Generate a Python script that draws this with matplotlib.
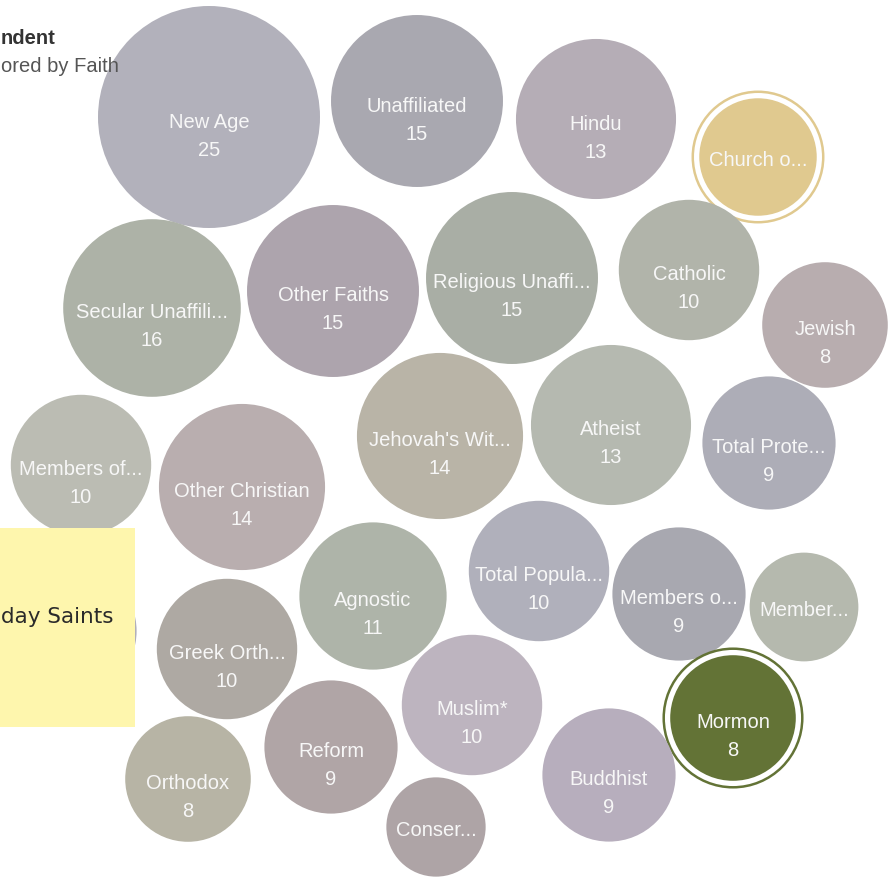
import numpy as np
import matplotlib
matplotlib.use("Agg")
import matplotlib.pyplot as plt
from matplotlib.patches import Circle, Rectangle

# ---- data ----
labels = ["New Age", "Unaffiliated", "Hindu", "Church o...", "Secular Unaffili...",
          "Other Faiths", "Religious Unaffi...", "Catholic", "Jewish", "Members of...",
          "Other Christian", "Jehovah's Wit...", "Atheist", "Total Prote...", "Agnostic",
          "Total Popula...", "Members o...", "Member...", "Greek Orth...", "Muslim*",
          "Mormon", "Reform", "Orthodox", "Buddhist", "Conser...", ""]
values = [25, 15, 13, 7, 16, 15, 15, 10, 8, 10, 14, 14, 13, 9, 11, 10, 9, 6, 10, 10,
          8, 9, 8, 9, 5, 9]
colors = ["#b2b1bb", "#a9a8b0", "#b5adb6", "#e0c98f", "#adb2a7", "#ada4ad", "#a9aea5",
          "#b1b4aa", "#b8adaf", "#bbbcb3", "#b9aeaf", "#b9b4a7", "#b5b9b0", "#adadb7",
          "#aeb4a9", "#b0b0bb", "#a8a8b0", "#b5b9ae", "#aea9a3", "#bdb4bf", "#637336",
          "#b0a5a6", "#b7b4a5", "#b7aebd", "#aea4a6", "#b0afba"]
highlighted = ["Church o...", "Mormon"]
tooltip_text = "day Saints"
title_text = "ndent"
subtitle_text = "ored by Faith"

# ---- layout (packed bubble positions, pixels) ----
centers = [(209, 118), (417, 102), (596, 120), (758, 158), (152, 309),
           (333, 292), (512, 279), (689, 271), (825, 326), (81, 466),
           (242, 488), (440, 437), (611, 426), (769, 444), (373, 597),
           (539, 572), (679, 595), (804, 608), (227, 650), (472, 706),
           (733, 719), (331, 748), (188, 780), (609, 776), (436, 828),
           (70, 632)]
scale = 22.2  # pixel radius per sqrt(value)

W, H = 894, 879
fig = plt.figure(figsize=(W / 100, H / 100), dpi=100)
ax = fig.add_axes([0, 0, 1, 1])
ax.set_xlim(0, W)
ax.set_ylim(H, 0)
ax.set_aspect("equal")
ax.axis("off")

font = "Liberation Sans"
txtc = "#f7f7f7"
for lab, v, c, (cx, cy) in zip(labels, values, colors, centers):
    r = scale * np.sqrt(v)
    ax.add_patch(Circle((cx, cy), r, facecolor=c, edgecolor="none", zorder=2))
    if lab in highlighted:
        ax.add_patch(Circle((cx, cy), r + 6.5, facecolor="none", edgecolor=c,
                            linewidth=1.8, zorder=2))
    if not lab:
        continue
    if r >= 60:
        ax.text(cx, cy + 4, lab, ha="center", va="center", color=txtc,
                fontsize=14.5, family=font, zorder=3)
        ax.text(cx, cy + 32, str(v), ha="center", va="center", color=txtc,
                fontsize=14.5, family=font, zorder=3)
    else:
        ax.text(cx, cy + 3, lab, ha="center", va="center", color=txtc,
                fontsize=14.5, family=font, zorder=3)

# tooltip
ax.add_patch(Rectangle((0, 529), 135, 199, facecolor="#fef6ad", edgecolor="none", zorder=5))
ax.text(1, 617, tooltip_text, ha="left", va="center", color="#2a2a2a",
        fontsize=15.5, family="DejaVu Sans", zorder=6)

# title fragments
ax.text(1, 38, title_text, ha="left", va="center", color="#333333",
        fontsize=14.5, fontweight="bold", family=font, zorder=7)
ax.text(1, 66, subtitle_text, ha="left", va="center", color="#555555",
        fontsize=14.5, family=font, zorder=7)

fig.savefig("out.png", dpi=100, facecolor="white")
